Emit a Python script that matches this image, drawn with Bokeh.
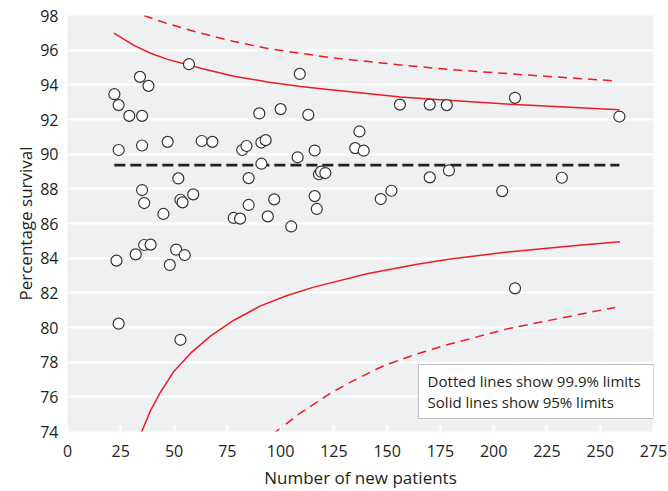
from bokeh.plotting import figure
from bokeh.models import Range1d, FixedTicker, BoxAnnotation, Label
from bokeh.embed import file_html
from bokeh.resources import INLINE

# ---- data ----
patients = [22, 24, 24, 23, 24, 29, 34, 35, 38, 35, 35, 36, 32, 36, 39, 45, 47, 48, 51, 52,
            53, 54, 55, 53, 57, 59, 63, 68, 78, 81, 82, 84, 85, 85, 90, 91, 91, 93, 94, 97,
            100, 109, 105, 108, 113, 116, 116, 117, 118, 119, 121, 135, 137, 139, 147, 152,
            156, 170, 170, 178, 179, 204, 210, 210, 232, 259]
survival = [93.46, 92.83, 90.24, 83.86, 80.22, 92.21, 94.46, 92.21, 93.94, 90.50, 87.93, 87.18,
            84.22, 84.76, 84.78, 86.55, 90.71, 83.61, 84.49, 88.60, 87.37, 87.22, 84.18, 79.29,
            95.19, 87.68, 90.76, 90.71, 86.32, 86.28, 90.24, 90.47, 88.62, 87.07, 92.35, 89.45,
            90.67, 90.81, 86.41, 87.39, 92.60, 94.63, 85.83, 89.82, 92.27, 90.21, 87.58, 86.84,
            88.84, 88.99, 88.91, 90.35, 91.31, 90.20, 87.41, 87.89, 92.86, 92.86, 88.66, 92.83,
            89.06, 87.87, 93.25, 82.26, 88.64, 92.17]

mean_n = [22, 259]
mean_val = [89.37, 89.37]

upper95_n = [21.8, 31.2, 39.0, 46.9, 56.9, 62.5, 78.1, 93.8, 109.4, 123.4, 132.8, 156.2, 175, 210, 259]
upper95 = [96.98, 96.28, 95.82, 95.47, 95.15, 94.96, 94.50, 94.17, 93.90, 93.72, 93.60, 93.30, 93.14, 92.86, 92.56]

lower95_n = [34.7, 39.0, 43.7, 50.0, 57.8, 67.2, 78.1, 90.6, 103.1, 115.6, 140.6, 164.1, 179.7, 206.3, 237.5, 259.3]
lower95 = [73.96, 75.22, 76.28, 77.48, 78.52, 79.52, 80.42, 81.25, 81.85, 82.33, 83.10, 83.65, 83.95, 84.35, 84.72, 84.95]

upper999_n = [35.9, 46.9, 62.5, 78.1, 93.8, 109.4, 123.4, 132.8, 156.2, 179.7, 214, 257]
upper999 = [98.0, 97.53, 96.98, 96.50, 96.10, 95.82, 95.57, 95.45, 95.15, 94.88, 94.58, 94.23]

lower999_n = [96.9, 109.4, 123.4, 132.8, 148.4, 164.1, 178.1, 206.3, 237.5, 257]
lower999 = [73.90, 75.08, 76.20, 76.85, 77.80, 78.48, 79.00, 79.92, 80.69, 81.16]

x_ticks = list(range(0, 276, 25))
y_ticks = list(range(74, 99, 2))
legend_lines = ["Dotted lines show 99.9% limits", "Solid lines show 95% limits"]

FONT = "Open Sans"
TEXT = "#231f20"
RED = "#ec1c24"

p = figure(width=668, height=491, output_backend="svg", toolbar_location=None,
           x_range=Range1d(0, 275), y_range=Range1d(74, 98),
           min_border_left=67, min_border_right=15, min_border_top=15, min_border_bottom=60)
p.background_fill_color = "#eff0f2"
p.border_fill_color = "white"
p.outline_line_color = None

p.xgrid.visible = False
p.ygrid.ticker = FixedTicker(ticks=y_ticks[1:-1])
p.ygrid.grid_line_color = "white"
p.ygrid.grid_line_width = 2

p.xaxis.ticker = FixedTicker(ticks=x_ticks)
p.yaxis.ticker = FixedTicker(ticks=y_ticks)
for ax in (p.xaxis[0], p.yaxis[0]):
    ax.axis_line_color = None
    ax.minor_tick_line_color = None
    ax.major_label_text_font = FONT
    ax.major_label_text_font_size = "16px"
    ax.major_label_text_color = TEXT
    ax.axis_label_text_font = FONT
    ax.axis_label_text_font_size = "17px"
    ax.axis_label_text_font_style = "normal"
    ax.axis_label_text_color = TEXT

p.xaxis.major_tick_in = 6
p.xaxis.major_tick_out = 0
p.xaxis.major_tick_line_color = "white"
p.xaxis.major_tick_line_width = 2
p.xaxis.major_label_standoff = 13
p.xaxis.axis_label = "Number of new patients"
p.xaxis.axis_label_standoff = 6

p.yaxis.major_tick_line_color = None
p.yaxis.major_tick_in = 0
p.yaxis.major_tick_out = 0
p.yaxis.major_label_standoff = 9
p.yaxis.axis_label = "Percentage survival"
p.yaxis.axis_label_standoff = 0

# limits
p.line(upper95_n, upper95, line_color=RED, line_width=1.5)
p.line(lower95_n, lower95, line_color=RED, line_width=1.5)
p.line(upper999_n, upper999, line_color=RED, line_width=1.5, line_dash="9 6")
p.line(lower999_n, lower999, line_color=RED, line_width=1.5, line_dash="9 6")
# mean
p.line(mean_n, mean_val, line_color="#222222", line_width=2.6, line_dash="11 5")
# units
p.scatter(patients, survival, size=11, marker="circle", fill_color="white",
          line_color="#333333", line_width=1.2)

box = BoxAnnotation(left=164.7, right=275, bottom=74.75, top=77.86,
                    fill_color="white", fill_alpha=1, line_color="#333333", line_width=1)
p.add_layout(box)
p.add_layout(Label(x=169, y=76.94, text=legend_lines[0], text_baseline="middle",
                   text_font=FONT, text_font_size="15px", text_color=TEXT))
p.add_layout(Label(x=169, y=75.73, text=legend_lines[1], text_baseline="middle",
                   text_font=FONT, text_font_size="15px", text_color=TEXT))

open("out.html", "w").write(file_html(p, INLINE))
